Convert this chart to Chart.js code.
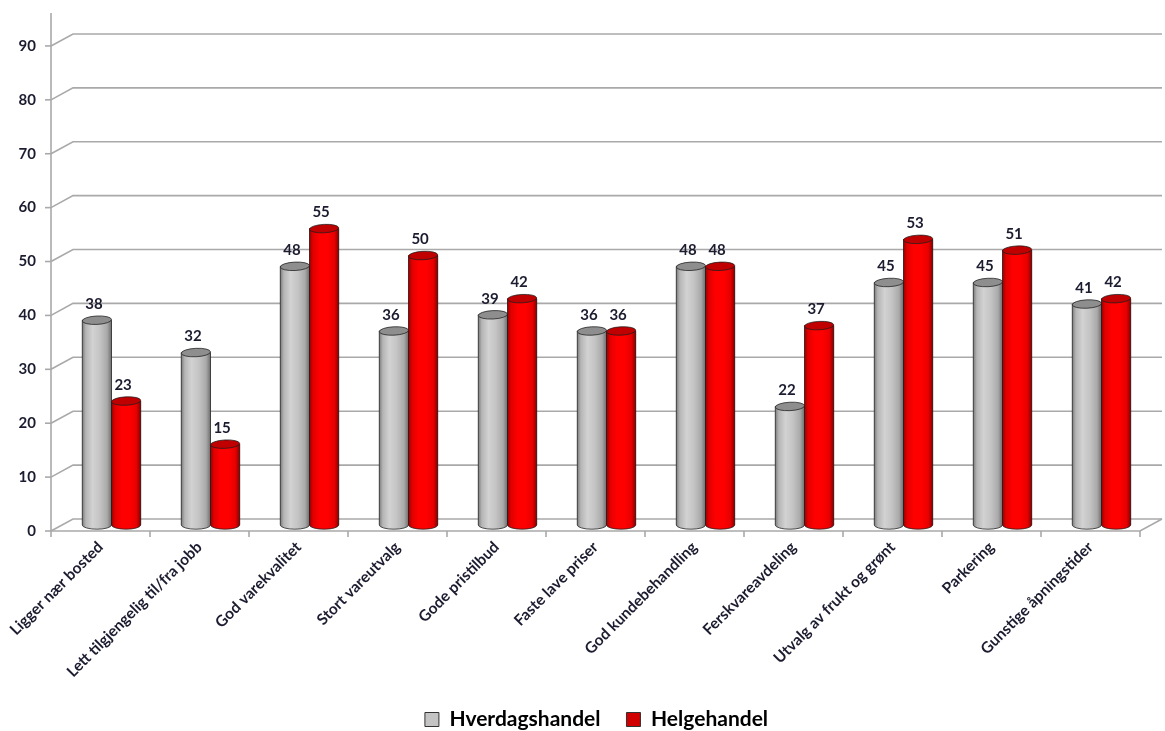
<!DOCTYPE html>
<html>
<head>
<meta charset="utf-8">
<script src="https://cdn.jsdelivr.net/npm/chart.js@4.4.1/dist/chart.umd.min.js"></script>
<style>
  html, body { margin: 0; padding: 0; background: #fff; }
  #wrap { width: 1165px; height: 731px; }
</style>
</head>
<body>
<div id="wrap"><canvas id="chart" width="1165" height="731"></canvas></div>
<script>
// Kategorier og verdier
const categories = [
    "Ligger nær bosted",
    "Lett tilgjengelig til/fra jobb",
    "God varekvalitet",
    "Stort vareutvalg",
    "Gode pristilbud",
    "Faste lave priser",
    "God kundebehandling",
    "Ferskvareavdeling",
    "Utvalg av frukt og grønt",
    "Parkering",
    "Gunstige åpningstider"
];
const hverdag = [38, 32, 48, 36, 39, 36, 48, 22, 45, 45, 41];
const helg    = [23, 15, 55, 50, 42, 36, 48, 37, 53, 51, 42];
const yTicks  = [0, 10, 20, 30, 40, 50, 60, 70, 80, 90];

// dybde for 3D-effekt (halve dybden)
const DX = 11, DY = 6;
const GRID = "#a9a9a9";
const TXT = "#1c1c30";
const FONT = "Lato, 'Noto Sans', sans-serif";

const shades = {
    grey: ["#7c7c7c", "#b5b5b5", "#d2d2d2", "#c4c4c4", "#a9a9a9", "#6e6e6e"],
    red:  ["#9c0000", "#e00000", "#ff0000", "#ff0000", "#e80000", "#8a0000"]
};
const tops = { grey: "#8e8e8e", red: "#c00000" };

// Rutenett og akser i "3D"
const frame3d = {
    id: "frame3d",
    afterLayout(chart) {
        // legenden står litt til høyre for midten i originalen
        if (chart.legend) {
            chart.legend.left += 21;
            chart.legend.right += 21;
        }
    },
    beforeDatasetsDraw(chart) {
        const { ctx, chartArea: a, scales } = chart;
        const y = scales.y, x = scales.x;
        const y0 = y.getPixelForValue(0);
        ctx.save();
        ctx.strokeStyle = GRID;
        ctx.lineWidth = 1.6;
        yTicks.forEach(v => {
            const yp = y.getPixelForValue(v);
            ctx.beginPath();
            ctx.moveTo(a.left - DX, yp + DY);
            ctx.lineTo(a.left + DX, yp - DY);
            ctx.lineTo(a.right + DX, yp - DY);
            ctx.stroke();
            // tick på fremre akse
            ctx.beginPath();
            ctx.moveTo(a.left - DX - 6, yp + DY);
            ctx.lineTo(a.left - DX, yp + DY);
            ctx.stroke();
        });
        // gulv
        ctx.beginPath();
        ctx.moveTo(a.left - DX, y0 + DY);
        ctx.lineTo(a.right - DX, y0 + DY);
        ctx.lineTo(a.right + DX, y0 - DY);
        ctx.stroke();
        // fremre y-akse
        ctx.beginPath();
        ctx.moveTo(a.left - DX, y0 + DY);
        ctx.lineTo(a.left - DX, a.top);
        ctx.stroke();
        // kategoriskiller
        const n = categories.length;
        for (let i = 0; i <= n; i++) {
            let bx;
            if (i === 0) bx = a.left;
            else if (i === n) bx = a.right;
            else bx = (x.getPixelForTick(i - 1) + x.getPixelForTick(i)) / 2;
            ctx.beginPath();
            ctx.moveTo(bx - DX, y0 + DY);
            ctx.lineTo(bx - DX, y0 + DY + 6);
            ctx.stroke();
        }
        ctx.restore();
    },
    afterDatasetsDraw(chart) {
        const { ctx } = chart;
        chart.data.datasets.forEach((ds, di) => {
            const meta = chart.getDatasetMeta(di);
            const key = di === 0 ? "grey" : "red";
            meta.data.forEach((bar, i) => {
                const p = bar.getProps(["x", "y", "base", "width"], true);
                const rx = p.width / 2, ry = 4.2, tilt = -0.05;
                const left = p.x - rx, right = p.x + rx;
                ctx.save();
                const g = ctx.createLinearGradient(left, 0, right, 0);
                const s = shades[key];
                [0, 0.12, 0.35, 0.6, 0.85, 1].forEach((o, k) => g.addColorStop(o, s[k]));
                ctx.beginPath();
                ctx.moveTo(left, p.y);
                ctx.lineTo(left, p.base);
                ctx.ellipse(p.x, p.base, rx, ry, 0, Math.PI, 0, true);
                ctx.lineTo(right, p.y);
                ctx.closePath();
                ctx.fillStyle = g;
                ctx.fill();
                ctx.strokeStyle = "rgba(30,30,30,0.85)";
                ctx.lineWidth = 0.9;
                ctx.stroke();
                // topp
                ctx.beginPath();
                ctx.ellipse(p.x, p.y, rx, ry, tilt, 0, Math.PI * 2);
                ctx.fillStyle = tops[key];
                ctx.fill();
                ctx.stroke();
                // verdi
                ctx.fillStyle = TXT;
                ctx.font = "bold 15px " + FONT;
                ctx.textAlign = "center";
                ctx.textBaseline = "middle";
                ctx.fillText(String(ds.data[i]), p.x - 3, p.y - 16);
                ctx.restore();
            });
        });
    }
};

new Chart(document.getElementById("chart"), {
    type: "bar",
    data: {
        labels: categories,
        datasets: [
            { label: "Hverdagshandel", data: hverdag, backgroundColor: "#c4c4c4",
              borderColor: "#333", borderWidth: 0 },
            { label: "Helgehandel", data: helg, backgroundColor: "#e00000",
              borderColor: "#333", borderWidth: 0 }
        ]
    },
    options: {
        responsive: false,
        animation: false,
        layout: { padding: { top: 13, right: 14, left: 0, bottom: -9 } },
        datasets: { bar: { categoryPercentage: 0.59, barPercentage: 1.0 } },
        plugins: {
            tooltip: { enabled: false },
            legend: {
                position: "bottom",
                labels: {
                    boxWidth: 14,
                    boxHeight: 14,
                    padding: 26,
                    color: TXT,
                    font: { family: FONT, size: 21, weight: "bold" },
                    generateLabels(chart) {
                        return chart.data.datasets.map((ds, i) => ({
                            text: ds.label,
                            fillStyle: i === 0 ? "#c4c4c4" : "#d00000",
                            strokeStyle: "#333",
                            lineWidth: 1,
                            datasetIndex: i
                        }));
                    }
                }
            }
        },
        scales: {
            x: {
                grid: { display: false, drawTicks: false },
                border: { display: false },
                afterFit(scale) {
                    scale.height = 158;
                    scale.paddingLeft = 0;
                    scale.paddingRight = 0;
                },
                ticks: {
                    autoSkip: false,
                    minRotation: 45,
                    maxRotation: 45,
                    padding: 13,
                    labelOffset: -DX,
                    color: TXT,
                    font: { family: FONT, size: 15.5, weight: "bold" }
                }
            },
            y: {
                min: 0,
                max: 95,
                grid: { display: false, drawTicks: false },
                border: { display: false },
                afterFit(scale) {
                    scale.width = 62;
                    scale.paddingTop = 0;
                    scale.paddingBottom = 0;
                },
                afterBuildTicks(scale) { scale.ticks = yTicks.map(v => ({ value: v })); },
                ticks: {
                    padding: 26,
                    labelOffset: DY,
                    color: TXT,
                    font: { family: FONT, size: 15, weight: "bold" }
                }
            }
        }
    },
    plugins: [frame3d]
});
</script>
</body>
</html>
